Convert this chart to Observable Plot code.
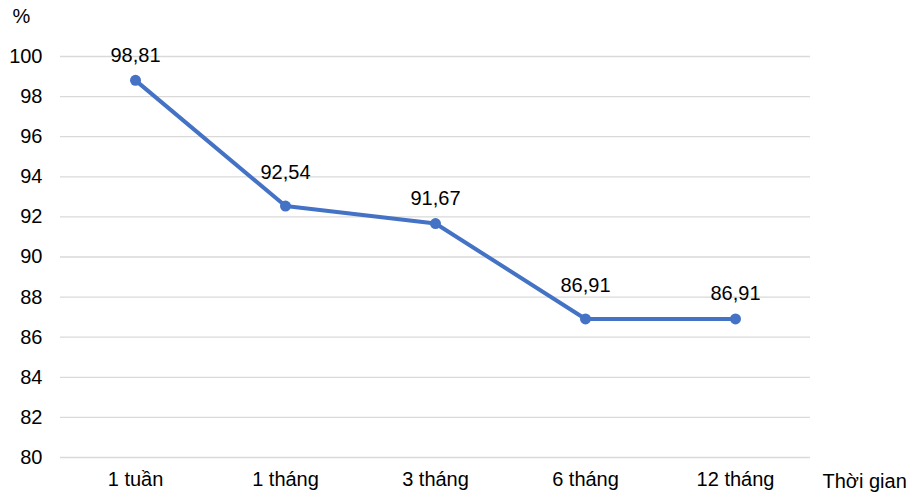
<!DOCTYPE html>
<html>
<head>
<meta charset="utf-8">
<script src="https://cdn.jsdelivr.net/npm/d3@7"></script>
<script src="https://cdn.jsdelivr.net/npm/@observablehq/plot@0.6"></script>
<style>
  html, body { margin: 0; padding: 0; background: #fff; }
  #chart svg { display: block; }
</style>
</head>
<body>
<div id="chart"></div>
<script>
const categories = ["1 tuần", "1 tháng", "3 tháng", "6 tháng", "12 tháng"];
const values = [98.81, 92.54, 91.67, 86.91, 86.91];
const valueLabels = ["98,81", "92,54", "91,67", "86,91", "86,91"];
const yTicks = [80, 82, 84, 86, 88, 90, 92, 94, 96, 98, 100];

const data = categories.map((c, i) => ({cat: c, v: values[i], label: valueLabels[i], i}));

const font = "'Liberation Sans', Arial, sans-serif";

const chart = Plot.plot({
  width: 911,
  height: 498,
  marginLeft: 60,
  marginRight: 101,
  marginTop: 56,
  marginBottom: 41,
  style: {fontFamily: font, fontSize: "20px", color: "#000", background: "#fff"},
  x: {type: "band", domain: categories, padding: 0, label: null, tickSize: 0, tickPadding: 14},
  y: {domain: [80, 100], ticks: yTicks, label: null, tickSize: 0, tickPadding: 18, tickFormat: d => String(d)},
  marks: [
    Plot.ruleY(yTicks, {stroke: "#d9d9d9", strokeWidth: 1.3}),
    Plot.line(data, {x: "cat", y: "v", stroke: "#4472C4", strokeWidth: 4}),
    Plot.dot(data, {x: "cat", y: "v", r: 5.5, fill: "#4472C4", stroke: "none"}),
    Plot.text(data.filter(d => d.i % 2 === 0), {x: "cat", y: "v", text: "label", dy: -25, fill: "#000", fontSize: 20}),
    Plot.text(data.filter(d => d.i % 2 === 1), {x: "cat", y: "v", text: "label", dy: -33, fill: "#000", fontSize: 20}),
    Plot.text(["%"], {frameAnchor: "top-left", dx: -48, dy: -34, textAnchor: "start", lineAnchor: "bottom", fill: "#000", fontSize: 20}),
    Plot.text(["Thời gian"], {frameAnchor: "bottom-right", dx: 12, dy: 30, textAnchor: "start", fill: "#000", fontSize: 20})
  ]
});
document.getElementById("chart").appendChild(chart);
</script>
</body>
</html>
